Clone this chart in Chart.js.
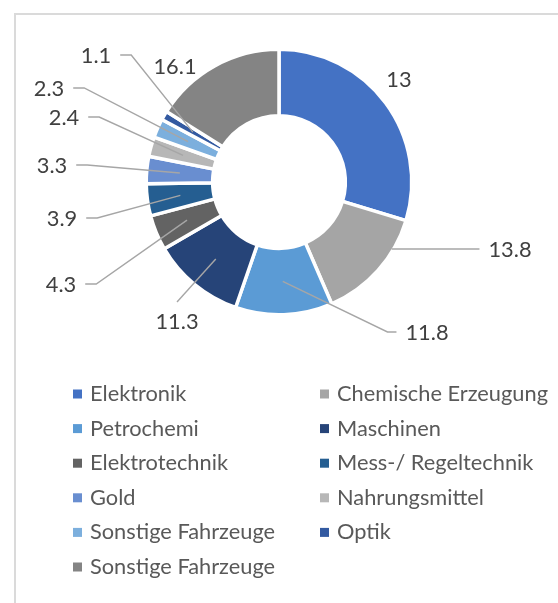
<!DOCTYPE html>
<html><head><meta charset="utf-8">
<script src="https://cdn.jsdelivr.net/npm/chart.js@4/dist/chart.umd.min.js"></script>
<style>html,body{margin:0;padding:0;background:#fff;overflow:hidden}#wrap{position:relative;width:558px;height:603px}canvas{display:block}</style>
</head><body><div id="wrap"><canvas id="c" width="558" height="603"></canvas></div>
<script>
// ---- data ----
const categories = ['Elektronik','Chemische Erzeugung','Petrochemi','Maschinen','Elektrotechnik','Mess-/ Regeltechnik','Gold','Nahrungsmittel','Sonstige Fahrzeuge','Optik','Sonstige Fahrzeuge'];
const sliceValues = [29.7, 13.8, 11.8, 11.3, 4.3, 3.9, 3.3, 2.4, 2.3, 1.1, 16.1];
const dataLabels = ['13','13.8','11.8','11.3','4.3','3.9','3.3','2.4','2.3','1.1','16.1'];
const colors = ['#4472C4','#A5A5A5','#5B9BD5','#264478','#636363','#255E91','#698ED0','#B7B7B7','#7CAFDD','#335AA1','#848484'];

// ---- label layout (offset of label centre from donut centre, px) ----
const labelLayout = [
  {dx:120,  dy:-102, lead:'none'},
  {dx:231,  dy:68,   lead:'edge'},
  {dx:148,  dy:151,  lead:'right'},
  {dx:-102, dy:140,  lead:'below'},
  {dx:-218, dy:103,  lead:'left'},
  {dx:-217, dy:37,   lead:'left'},
  {dx:-227, dy:-16,  lead:'left'},
  {dx:-215, dy:-64,  lead:'left'},
  {dx:-230, dy:-93,  lead:'left'},
  {dx:-183, dy:-126, lead:'left'},
  {dx:-104, dy:-115, lead:'none'}
];

const FONT_FAMILY = 'Lato, "Open Sans", sans-serif';
// fit font size to the reference legend text width
const mctx = document.createElement('canvas').getContext('2d');
mctx.font = '100px ' + FONT_FAMILY;
const FS = Math.round(211 / mctx.measureText('Chemische Erzeugung').width * 100 * 10) / 10;

const frame = {
  id:'frame',
  beforeDraw(chart){
    const c = chart.ctx;
    c.save();
    c.fillStyle = '#DADADA';
    c.fillRect(14, 13, 544, 2);
    c.fillRect(14, 13, 2, 590);
    c.restore();
  }
};

const labelsPlugin = {
  id:'donutLabels',
  afterDatasetsDraw(chart){
    const c = chart.ctx;
    const meta = chart.getDatasetMeta(0);
    c.save();
    c.font = FS + 'px ' + FONT_FAMILY;
    c.textAlign = 'center';
    c.textBaseline = 'middle';
    meta.data.forEach((arc, i) => {
      const L = labelLayout[i];
      const cx = arc.x, cy = arc.y;
      const lx = cx + L.dx, ly = cy + L.dy;
      const w = c.measureText(dataLabels[i]).width;
      const R = arc.outerRadius - arc.options.borderWidth / 2;
      const a = arc.getCenterPoint();
      c.strokeStyle = '#A6A6A6';
      c.lineWidth = 1.4;
      c.beginPath();
      if (L.lead === 'left') {
        const endX = lx + w/2 + 9, elbowX = endX + 11, yy = ly - 1;
        c.moveTo(a.x, a.y); c.lineTo(elbowX, yy); c.lineTo(endX, yy);
      } else if (L.lead === 'right') {
        const endX = lx - w/2 - 9, elbowX = endX - 9, yy = ly - 1;
        c.moveTo(a.x, a.y); c.lineTo(elbowX, yy); c.lineTo(endX, yy);
      } else if (L.lead === 'below') {
        c.moveTo(a.x, a.y); c.lineTo(lx, ly - 20);
      } else if (L.lead === 'edge') {
        const yy = ly - 1;
        const sx = cx + Math.sqrt(Math.max(R*R - (yy-cy)*(yy-cy), 0));
        c.moveTo(sx, yy); c.lineTo(lx - w/2 - 9, yy);
      }
      c.stroke();
      c.fillStyle = '#404040';
      c.fillText(dataLabels[i], lx, ly);
    });
    c.restore();
  }
};

const legendPlugin = {
  id:'gridLegend',
  afterDraw(chart){
    const c = chart.ctx;
    c.save();
    c.font = FS + 'px ' + FONT_FAMILY;
    c.textBaseline = 'middle';
    c.textAlign = 'left';
    const cols = [{box:73, text:90}, {box:320, text:337}];
    categories.forEach((name, i) => {
      const col = cols[i % 2];
      const y = 394 + Math.floor(i / 2) * 34.6;
      c.fillStyle = colors[i];
      c.fillRect(col.box, y - 4.5, 9, 9);
      c.fillStyle = '#595959';
      c.fillText(name, col.text, y);
    });
    c.restore();
  }
};

new Chart(document.getElementById('c'), {
  type:'doughnut',
  data:{
    labels: categories,
    datasets:[{
      data: sliceValues,
      backgroundColor: colors,
      borderColor:'#FFFFFF',
      borderWidth:3.5,
      hoverOffset:0
    }]
  },
  options:{
    responsive:false,
    animation:false,
    cutout:'50%',
    layout:{padding:{left:144.5, right:144.5, top:47.5, bottom:286.5}},
    plugins:{legend:{display:false}, tooltip:{enabled:false}}
  },
  plugins:[frame, labelsPlugin, legendPlugin]
});
</script>
</body></html>
